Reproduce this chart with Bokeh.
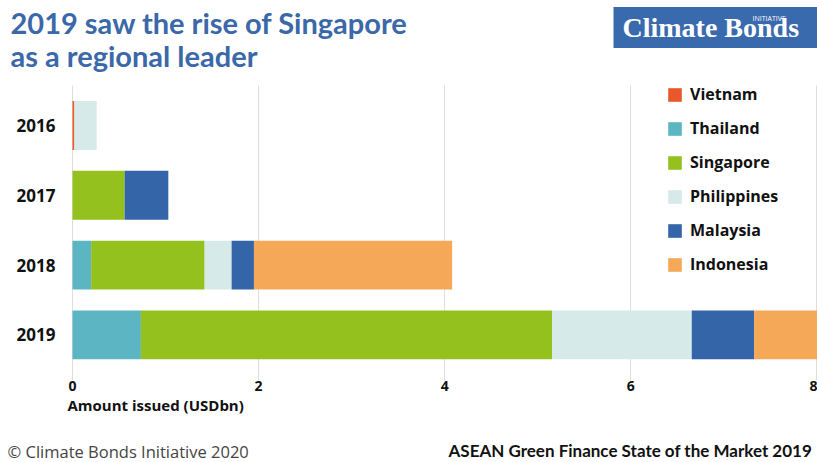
from bokeh.plotting import figure
from bokeh.models import ColumnDataSource, Range1d, FixedTicker, Label
from bokeh.embed import file_html
from bokeh.resources import INLINE

# ---- data (USD bn) ----
years = [2016, 2017, 2018, 2019]
countries = ["Vietnam", "Thailand", "Singapore", "Philippines", "Malaysia", "Indonesia"]
vietnam = [0.02, 0.0, 0.0, 0.0]
thailand = [0.0, 0.0, 0.20, 0.735]
singapore = [0.0, 0.56, 1.22, 4.42]
philippines = [0.24, 0.0, 0.29, 1.50]
malaysia = [0.0, 0.47, 0.24, 0.67]
indonesia = [0.0, 0.0, 2.13, 0.80]
colors = ["#e8582a", "#5cb5c2", "#95c11f", "#d6eaea", "#3465a8", "#f5a857"]
x_ticks = [0, 2, 4, 6, 8]

# ---- layout (pixels of the 817x462 canvas) ----
W, H = 817, 462
PLOT_L, PLOT_T, PLOT_B = 70, 85, 380
X0_PX, PX_PER_X = 72, 93.05
Y0_PX, PX_PER_YEAR = 125, 69.8


def sx(px):
    return (px - X0_PX) / PX_PER_X


def sy(py):
    return years[0] + (py - Y0_PX) / PX_PER_YEAR


source = ColumnDataSource(dict(year=years, Vietnam=vietnam, Thailand=thailand,
                               Singapore=singapore, Philippines=philippines,
                               Malaysia=malaysia, Indonesia=indonesia))

p = figure(width=W, height=H, output_backend="svg", toolbar_location=None, title=None,
           x_range=Range1d(sx(0), sx(W)), y_range=Range1d(sy(H), sy(0)),
           min_border=0)
p.outline_line_color = None
p.background_fill_color = "white"
p.border_fill_color = "white"

p.hbar_stack(countries, y="year", height=0.70, fill_color=colors, line_color=None,
             source=source, legend_label=countries)

# axes drawn at fixed positions inside the canvas
p.xaxis.ticker = FixedTicker(ticks=x_ticks)
p.yaxis.ticker = FixedTicker(ticks=years)
p.xaxis.fixed_location = sy(PLOT_B)
p.yaxis.fixed_location = sx(PLOT_L)
for ax in (p.xaxis[0], p.yaxis[0]):
    ax.axis_line_color = None
    ax.major_tick_line_color = None
    ax.minor_tick_line_color = None
    ax.major_tick_out = 0
    ax.major_tick_in = 0
    ax.minor_tick_out = 0
    ax.minor_tick_in = 0
    ax.major_label_text_font = "Open Sans"
    ax.major_label_text_font_style = "bold"
    ax.major_label_text_color = "#111111"
p.xaxis.major_label_text_font_size = "14px"
p.xaxis.major_label_standoff = 0
p.yaxis.major_label_text_font_size = "17px"
p.yaxis.major_label_standoff = 15

p.xgrid.ticker = FixedTicker(ticks=x_ticks)
p.xgrid.cross_bounds = (sy(PLOT_T), sy(PLOT_B))
p.xgrid.grid_line_color = "#dedede"
p.xgrid.grid_line_width = 1
p.ygrid.grid_line_color = None

lg = p.legend[0]
lg.location = (666, 187)
lg.glyph_width = 17
lg.glyph_height = 17
lg.label_standoff = 7
lg.spacing = 12
lg.padding = 0
lg.margin = 0
lg.label_height = 17
lg.border_line_color = None
lg.background_fill_alpha = 0
lg.label_text_font = "Open Sans"
lg.label_text_font_style = "bold"
lg.label_text_font_size = "16px"
lg.label_text_color = "#111111"

# ---- texts ----
title_color = "#3a68a8"
p.add_layout(Label(x=sx(10), y=sy(22), text="2019 saw the rise of Singapore",
                   text_font="Lato", text_font_style="bold", text_font_size="29px",
                   text_color=title_color, text_baseline="middle"))
p.add_layout(Label(x=sx(10), y=sy(55), text="as a regional leader",
                   text_font="Lato", text_font_style="bold", text_font_size="29px",
                   text_color=title_color, text_baseline="middle"))

p.add_layout(Label(x=sx(613), y=sy(27), text="Climate Bonds",
                   text_font="Liberation Serif", text_font_style="bold",
                   text_font_size="28px", text_color="white", text_baseline="middle",
                   background_fill_color="#3a6aae",
                   padding=dict(left=9, right=30, top=5, bottom=5)))
p.add_layout(Label(x=sx(752), y=sy(18), text="INITIATIVE",
                   text_font="Open Sans", text_font_size="7px", text_color="white",
                   text_baseline="middle"))

p.add_layout(Label(x=sx(67), y=sy(404), text="Amount issued (USDbn)",
                   text_font="Open Sans", text_font_style="bold", text_font_size="15px",
                   text_color="#111111", text_baseline="middle"))
p.add_layout(Label(x=sx(7), y=sy(451), text="© Climate Bonds Initiative 2020",
                   text_font="Open Sans", text_font_size="16.5px",
                   text_color="#444444", text_baseline="middle"))
p.add_layout(Label(x=sx(448), y=sy(450), text="ASEAN Green Finance State of the Market 2019",
                   text_font="Lato", text_font_style="bold", text_font_size="17px",
                   text_color="#111111", text_baseline="middle"))

open("out.html", "w").write(file_html(p, INLINE))
